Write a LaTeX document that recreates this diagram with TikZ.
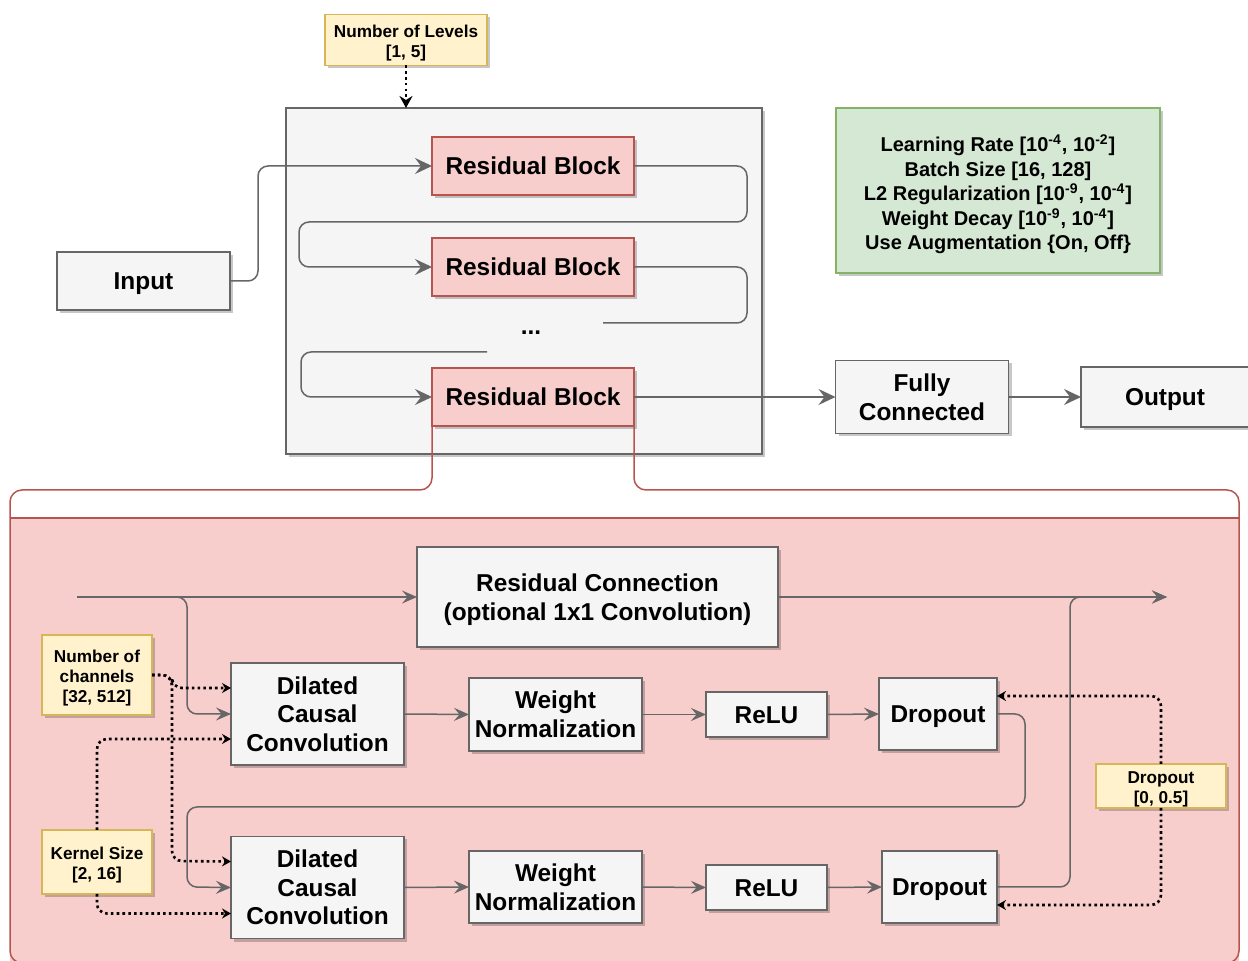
\documentclass[tikz,border=0pt]{standalone}
\usepackage{fontspec}
\setmainfont{Liberation Sans}
\usepackage{xcolor}
\usepackage{tikz}
\usetikzlibrary{arrows.meta,calc,shadows}

\definecolor{grayfill}{HTML}{F5F5F5}
\definecolor{grayline}{HTML}{666666}
\definecolor{redfill}{HTML}{F8CECC}
\definecolor{redline}{HTML}{B85450}
\definecolor{greenfill}{HTML}{D5E8D4}
\definecolor{greenline}{HTML}{82B366}
\definecolor{notefill}{HTML}{FFF2CC}
\definecolor{noteline}{HTML}{D6B656}

\newcommand{\blockfont}{\fontsize{12.2}{14.3}\selectfont\bfseries}
\newcommand{\hpfont}{\fontsize{10}{12.25}\selectfont\bfseries}
\newcommand{\notefont}{\fontsize{8.6}{10.2}\selectfont\bfseries}
\newcommand{\notestrut}{\rule{0pt}{9.2pt}}

\tikzset{
  shade box/.style={drop shadow={shadow xshift=1.5pt,shadow yshift=-1.5pt,fill=black,opacity=0.22}},
  layer/.style={shade box, draw=grayline, fill=grayfill, line width=0.8pt, inner sep=0pt, outer sep=0pt, align=center, font=\blockfont},
  oneline/.style={text height=8.8pt, text depth=0pt},
  resblock/.style={layer, oneline, draw=redline, fill=redfill, minimum width=101pt, minimum height=29pt},
  param/.style={shade box, draw=noteline, fill=notefill, line width=0.8pt, inner sep=0pt, outer sep=0pt, align=center, font=\notefont},
  flow/.style={draw=grayline, line width=0.75pt, rounded corners=5pt, -{Stealth[length=8.5pt,width=8pt,inset=3pt]}},
  flowsmall/.style={flow, -{Stealth[length=7.5pt,width=6.5pt,inset=2.8pt]}},
  wire/.style={draw=grayline, line width=0.75pt, rounded corners=5pt},
  hparrow/.style={draw=black, line width=1.3pt, dash pattern=on 1.3pt off 1.6pt, rounded corners=5pt, -{Stealth[length=4.5pt,width=5pt,inset=1.5pt]}},
  zoomline/.style={draw=redline, line width=0.75pt, rounded corners=6pt},
}

\begin{document}
\begin{tikzpicture}[x=0.5pt,y=-0.5pt]
\useasboundingbox (0,0) rectangle (1248,961);

% Stack of residual blocks
\node[layer, minimum width=238pt, minimum height=173pt] (stack) at (524,281) {};
\node[resblock] (rb1) at (533,166) {Residual Block};
\node[resblock] (rb2) at (533,267) {Residual Block};
\node[resblock] (rb3) at (533,397) {Residual Block};
\node[font=\blockfont, inner sep=0pt] (ellip) at (531,333) {...};
\coordinate (gapR) at (603,323);
\coordinate (gapL) at (487,352);

\node[layer, oneline, minimum width=86.5pt, minimum height=29pt] (input) at (143.5,281) {Input};
\node[layer, minimum width=86.5pt, minimum height=36.5pt] (fc) at (922,397) {Fully\\Connected};
\node[layer, oneline, minimum width=84pt, minimum height=30pt] (output) at (1165,397) {Output};

% Hyperparameters
\node[param, minimum width=81pt, minimum height=25.5pt] (levels) at (406,40) {\notestrut Number of Levels\\{[1, 5]}};
\node[shade box, draw=greenline, fill=greenfill, line width=0.8pt, inner sep=0pt, align=center,
      minimum width=162pt, minimum height=82.5pt, font=\hpfont] (hyper) at (998,190.5)
  {\rule{0pt}{12.5pt}Learning Rate [10\textsuperscript{-4}, 10\textsuperscript{-2}]\\
   Batch Size [16, 128]\\
   L2 Regularization [10\textsuperscript{-9}, 10\textsuperscript{-4}]\\
   Weight Decay [10\textsuperscript{-9}, 10\textsuperscript{-4}]\\
   Use Augmentation \{On, Off\}};

\draw[flow] (input.east) -- ++(28,0) |- (rb1.west);
\draw[flow] (rb1.east) -| (747,222) -| (299,267) -- (rb2.west);
\draw[wire] (rb2.east) -| (747,323) -- (gapR);
\draw[flow] (gapL) -| (301,397) -- (rb3.west);
\draw[flow] (rb3.east) -- (fc.west);
\draw[flow] (fc.east) -- (output.west);
\draw[hparrow, -{Stealth[length=6pt,width=6.5pt,inset=2pt]}] (levels.south) -- (levels.south |- stack.north);

% Zoom on one residual block
\fill[redfill] (10,518) rectangle (1239,963);
\draw[zoomline] (10,518) -- (10,963) -- (1239,963) -- (1239,518);
\draw[zoomline] (10,518) -- (1239,518);
\draw[zoomline] (rb3.south west) -- (432,490) -- (10,490) -- (10,518);
\draw[zoomline] (rb3.south east) -- (634,490) -- (1239,490) -- (1239,518);

\node[layer, minimum width=180.5pt, minimum height=50pt] (rc) at (597.5,597) {\rule{0pt}{11.7pt}Residual Connection\\(optional 1x1 Convolution)};
\node[layer, minimum width=86.5pt, minimum height=51pt] (dcc1) at (317.5,714) {Dilated\\Causal\\Convolution};
\node[layer, minimum width=86.5pt, minimum height=36.5pt] (wn1) at (555.5,714.5) {Weight\\Normalization};
\node[layer, oneline, minimum width=60.5pt, minimum height=22.5pt] (relu1) at (766.5,714.5) {ReLU};
\node[layer, oneline, minimum width=59pt, minimum height=36pt] (drop1) at (938,714) {Dropout};
\node[layer, minimum width=86.5pt, minimum height=51pt] (dcc2) at (317.5,887.5) {Dilated\\Causal\\Convolution};
\node[layer, minimum width=86.5pt, minimum height=36pt] (wn2) at (555.5,887) {Weight\\Normalization};
\node[layer, oneline, minimum width=60.5pt, minimum height=22.5pt] (relu2) at (766.5,887.5) {ReLU};
\node[layer, oneline, minimum width=57.5pt, minimum height=36pt] (drop2) at (939.5,887) {Dropout};

\node[param, minimum width=55pt, minimum height=40pt] (chan) at (97,675) {\notestrut Number of\\channels\\{[32, 512]}};
\node[param, minimum width=55pt, minimum height=32pt] (kern) at (97,862) {\notestrut Kernel Size\\{[2, 16]}};
\node[param, minimum width=65pt, minimum height=22pt] (dnote) at (1161,786) {\notestrut Dropout\\{[0, 0.5]}};

\coordinate (resin) at (77,597);
\coordinate (resout) at (1167,597);

\draw[flowsmall] (resin) -- (rc.west);
\draw[flowsmall] (resin) -| (187,714) -- (dcc1.west);
\draw[flowsmall] (rc.east) -- (resout);
\draw[flowsmall] (drop2.east) -| (1070,597) -- (resout);

\draw[flowsmall] (dcc1.east) -- (wn1.west);
\draw[flowsmall] (wn1.east) -- (relu1.west);
\draw[flowsmall] (relu1.east) -- (drop1.west);
\draw[flowsmall] (drop1.east) -| (1025,807) -| (187,887) -- (dcc2.west);
\draw[flowsmall] (dcc2.east) -- (wn2.west);
\draw[flowsmall] (wn2.east) -- (relu2.west);
\draw[flowsmall] (relu2.east) -- (drop2.west);

\draw[hparrow] (chan.east) -| (172,688) -- ($(dcc1.west)+(0,-26)$);
\draw[hparrow] (chan.east) -| (172,861) -- ($(dcc2.west)+(0,-26)$);
\draw[hparrow] (kern.north) |- ($(dcc1.west)+(0,25)$);
\draw[hparrow] (kern.south) |- ($(dcc2.west)+(0,26)$);
\draw[hparrow] (dnote.north) |- ($(drop1.east)+(0,-18)$);
\draw[hparrow] (dnote.south) |- ($(drop2.east)+(0,18)$);
\end{tikzpicture}
\end{document}
